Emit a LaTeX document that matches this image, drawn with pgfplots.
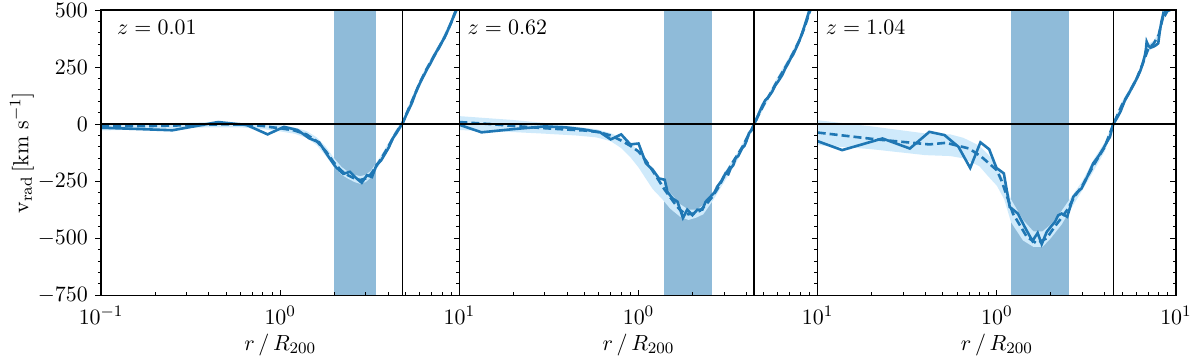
\documentclass[border=0pt]{standalone}
\usepackage{pgfplots}
\pgfplotsset{compat=1.18}

\definecolor{tabblue}{HTML}{1F77B4}
\definecolor{shellc}{RGB}{143,187,217}
\definecolor{spreadc}{RGB}{207,234,251}

\pgfplotsset{
  vrpanel/.style={
    scale only axis, width=179pt, height=142.5pt,
    xmin=0.1, xmax=10, ymin=-750, ymax=500,
    xtick={0.1,1,10}, ytick={-750,-500,-250,0,250,500},
    minor y tick num=4,
    xtick pos=bottom, ytick pos=left,
    xtick align=inside, ytick align=outside,
    major tick length=2.8pt, minor tick length=1.6pt,
    tick style={black, line width=0.5pt},
    axis line style={line width=0.65pt},
    axis on top,
    xticklabel style={yshift=-1.5pt},
    xlabel={$r\,/\,R_{200}$},
    xlabel style={at={(rel axis cs:0.5,-0.193)}, anchor=base},
  },
  solidc/.style={tabblue, line width=1.3pt},
  dashc/.style={tabblue, line width=1.3pt, dash pattern=on 4pt off 2pt},
}

\begin{document}
\fontsize{11}{13.2}\selectfont
\begin{tikzpicture}
\path[use as bounding box] (-50.5pt,-32.5pt) rectangle (549pt,147.5pt);

% ---------------- z = 0.01 ----------------
\begin{axis}[xmode=log, vrpanel, at={(0pt,0pt)},
    ylabel={$\mathrm{v_{rad}}\,[\mathrm{km\ s^{-1}}]$},
    ylabel style={at={(rel axis cs:-0.221,0.5)}, anchor=center}]
\addplot[fill=shellc, draw=none] coordinates {(2.0,-750) (3.44,-750) (3.44,500) (2.0,500)} -- cycle;
\addplot[fill=spreadc, draw=none] coordinates {
  (0.1,2) (0.2,3) (0.4,8) (0.6,6) (0.8,3) (1.0,-5) (1.2,-15) (1.4,-30) (1.6,-58)
  (1.8,-100) (2.0,-150) (2.2,-188) (2.4,-210) (2.6,-222) (2.8,-228) (3.0,-222)
  (3.2,-205) (3.4,-175) (3.6,-145) (3.8,-115) (4.0,-85) (4.4,-28) (4.8,18)
  (5.5,125) (6.5,250) (8,375) (9,460) (10,545)
  (10,515) (9,430) (8,345) (6.5,220) (5.5,95) (4.8,-12) (4.4,-56) (4.0,-115)
  (3.8,-145) (3.6,-175) (3.4,-205) (3.2,-235) (3.0,-254) (2.8,-262) (2.6,-254)
  (2.4,-240) (2.2,-222) (2.0,-190) (1.8,-140) (1.6,-92) (1.4,-60) (1.2,-42)
  (1.0,-32) (0.8,-22) (0.6,-14) (0.4,-14) (0.2,-22) (0.1,-28)} -- cycle;
\addplot[dashc] coordinates {
  (0.1,-10) (0.15,-9) (0.2,-8) (0.3,-5) (0.4,-2) (0.5,-1) (0.6,-2) (0.7,-4)
  (0.8,-8) (0.9,-14) (1.0,-18) (1.2,-28) (1.4,-45) (1.6,-75) (1.8,-120)
  (2.0,-170) (2.2,-205) (2.4,-225) (2.6,-238) (2.8,-245) (3.0,-238) (3.2,-220)
  (3.4,-190) (3.6,-160) (3.8,-130) (4.0,-100) (4.2,-70) (4.4,-42) (4.6,-18)
  (4.8,3) (5.0,35) (5.5,110) (6,180) (6.5,235) (7,280) (7.5,322) (8,360)
  (8.5,400) (9,445) (9.5,490) (10,530)};
\addplot[solidc] coordinates {
  (0.05,-7) (0.25,-27) (0.45,9) (0.65,-4) (0.85,-45) (1.05,-12) (1.25,-26)
  (1.45,-62) (1.65,-80) (1.85,-140) (2.05,-190) (2.25,-218) (2.45,-209)
  (2.65,-236) (2.85,-257) (3.05,-224) (3.25,-232) (3.45,-178) (3.65,-160)
  (3.85,-130) (4.05,-100) (4.25,-62) (4.45,-40) (4.65,-15) (4.85,8) (5.05,40)
  (5.25,68) (5.45,95) (5.65,130) (5.85,158) (6.05,183) (6.25,205) (6.45,225)
  (6.65,246) (6.85,262) (7.05,282) (7.25,300) (7.45,318) (7.65,331) (7.85,348)
  (8.05,364) (8.25,378) (8.45,396) (8.65,414) (8.85,432) (9.05,450) (9.25,470)
  (9.45,489) (9.65,505) (9.85,520) (10.05,535)};
\addplot[black, line width=1pt] coordinates {(0.1,0) (10,0)};
\addplot[black, line width=0.6pt] coordinates {(4.79,-750) (4.79,500)};
\node[anchor=west, inner sep=0pt] at (rel axis cs:0.044,0.94) {$z = 0.01$};
\end{axis}

% ---------------- z = 0.62 ----------------
\begin{axis}[xmode=log, vrpanel, at={(179pt,0pt)}, yticklabels={},
    xticklabels={{},$10^{0}$,$10^{1}$}]
\addplot[fill=shellc, draw=none] coordinates {(1.38,-750) (2.58,-750) (2.58,500) (1.38,500)} -- cycle;
\addplot[fill=spreadc, draw=none] coordinates {
  (0.1,35) (0.2,18) (0.3,5) (0.45,-12) (0.58,-22) (0.7,-40) (0.8,-60) (0.9,-85)
  (1.0,-115) (1.1,-155) (1.2,-200) (1.36,-255) (1.5,-300) (1.7,-350) (1.9,-375)
  (2.1,-375) (2.3,-355) (2.6,-300) (3,-215) (3.5,-135) (4,-55) (4.4,5) (5,95)
  (6,210) (7,300) (8,390) (9,500) (9.3,535)
  (9.3,505) (9,470) (8,360) (7,270) (6,180) (5,70) (4.4,-15) (4,-85) (3.5,-170)
  (3,-255) (2.6,-335) (2.3,-395) (2.1,-410) (1.9,-420) (1.7,-405) (1.5,-370)
  (1.36,-330) (1.2,-285) (1.1,-240) (1.0,-190) (0.9,-145) (0.8,-105) (0.7,-75)
  (0.58,-58) (0.45,-50) (0.3,-42) (0.2,-35) (0.1,-26)} -- cycle;
\addplot[dashc] coordinates {
  (0.1,9) (0.15,0) (0.2,-8) (0.3,-18) (0.4,-24) (0.5,-28) (0.6,-35) (0.7,-50)
  (0.8,-72) (0.9,-95) (1.0,-120) (1.1,-160) (1.2,-205) (1.3,-248) (1.4,-288)
  (1.5,-320) (1.6,-350) (1.7,-375) (1.8,-390) (1.9,-395) (2.0,-393) (2.2,-380)
  (2.4,-350) (2.6,-315) (2.8,-275) (3.0,-230) (3.2,-195) (3.4,-160) (3.6,-130)
  (3.8,-100) (4.0,-65) (4.2,-35) (4.4,-3) (4.6,30) (5.0,85) (5.5,140) (6,195)
  (6.5,240) (7,285) (7.5,330) (8,375) (8.5,430) (9,490) (9.3,520)};
\addplot[solidc] coordinates {
  (0.1,-3) (0.133,-36) (0.2,-22) (0.3,-10) (0.4,-15) (0.5,-24) (0.61,-36)
  (0.7,-67) (0.8,-45) (0.9,-89) (1.0,-85) (1.1,-172) (1.2,-200) (1.3,-238)
  (1.4,-244) (1.45,-297) (1.55,-326) (1.65,-340) (1.77,-411) (1.87,-375)
  (2.0,-399) (2.13,-375) (2.27,-375) (2.37,-340) (2.52,-318) (2.65,-300)
  (2.75,-274) (2.9,-250) (3.06,-215) (3.17,-220) (3.27,-193) (3.38,-180)
  (3.48,-149) (3.6,-140) (3.79,-105) (3.9,-95) (4.0,-75) (4.13,-40) (4.3,-25)
  (4.41,0) (4.55,20) (4.7,48) (4.9,80) (5.1,105) (5.3,118) (5.57,142) (5.8,170)
  (6.05,190) (6.34,215) (6.6,245) (6.8,262) (7.06,288) (7.3,305) (7.6,335)
  (7.86,361) (8.2,400) (8.6,450) (8.94,493) (9.2,520)};
\addplot[black, line width=1pt] coordinates {(0.1,0) (10,0)};
\addplot[black, line width=0.6pt] coordinates {(4.41,-750) (4.41,500)};
\node[anchor=west, inner sep=0pt] at (rel axis cs:0.022,0.94) {$z = 0.62$};
\end{axis}

% ---------------- z = 1.04 ----------------
\begin{axis}[xmode=log, vrpanel, at={(358pt,0pt)}, yticklabels={},
    xticklabels={{},$10^{0}$,$10^{1}$}]
\addplot[fill=shellc, draw=none] coordinates {(1.20,-750) (2.52,-750) (2.52,500) (1.20,500)} -- cycle;
\addplot[fill=spreadc, draw=none] coordinates {
  (0.1,17) (0.2,-10) (0.4,-41) (0.55,-45) (0.65,-60) (0.8,-95) (0.9,-136)
  (1.0,-180) (1.1,-250) (1.2,-330) (1.4,-420) (1.6,-470) (1.8,-470) (2.0,-440)
  (2.3,-380) (2.6,-320) (3,-250) (3.5,-150) (4,-80) (4.5,15) (5,100) (5.5,155)
  (6,210) (6.5,275) (7,350) (7.5,365) (8,400) (8.5,495) (9,535)
  (9,500) (8.5,460) (8,375) (7.5,340) (7,315) (6.5,245) (6,180) (5.5,125)
  (5,70) (4.5,-15) (4,-120) (3.5,-200) (3,-290)
  (2.6,-370) (2.3,-440) (2.0,-500) (1.8,-538) (1.6,-538) (1.4,-510) (1.2,-430)
  (1.1,-330) (1.0,-270) (0.9,-231) (0.8,-185) (0.65,-150) (0.55,-140)
  (0.4,-136) (0.2,-110) (0.1,-92)} -- cycle;
\addplot[dashc] coordinates {
  (0.1,-37) (0.213,-67) (0.42,-89) (0.52,-82) (0.7,-107) (0.82,-143) (1.0,-202)
  (1.06,-246) (1.23,-392) (1.47,-494) (1.67,-523) (1.9,-500) (2.1,-450)
  (2.3,-410) (2.5,-370) (2.7,-320) (3.0,-270) (3.5,-175) (4.0,-100) (4.5,5)
  (5,85) (5.5,140) (6,195) (6.5,262) (7,330) (7.5,352) (8,390) (8.5,475) (9,520)};
\addplot[solidc] coordinates {
  (0.1,-75) (0.137,-114) (0.23,-63) (0.327,-107) (0.42,-34) (0.51,-48)
  (0.61,-99) (0.71,-192) (0.81,-80) (0.906,-110) (0.995,-192) (1.094,-216)
  (1.18,-363) (1.31,-392) (1.43,-450) (1.58,-512) (1.69,-477) (1.78,-526)
  (1.90,-472) (2.0,-450) (2.11,-428) (2.2,-400) (2.30,-392) (2.47,-406)
  (2.67,-319) (2.8,-300) (2.97,-282) (3.2,-230) (3.45,-172) (3.7,-140)
  (3.93,-107) (4.1,-80) (4.28,-56) (4.46,0) (4.67,25) (4.9,55) (5.19,105)
  (5.5,140) (5.77,171) (6.0,195) (6.29,229) (6.5,262) (6.71,303) (6.8,330)
  (6.86,361) (7.0,345) (7.2,335) (7.47,339) (7.7,345) (7.96,354) (8.14,412)
  (8.3,450) (8.5,486) (8.7,478) (8.95,495) (9.25,500) (9.5,530)};
\addplot[black, line width=1pt] coordinates {(0.1,0) (10,0)};
\addplot[black, line width=0.6pt] coordinates {(4.46,-750) (4.46,500)};
\node[anchor=west, inner sep=0pt] at (rel axis cs:0.022,0.94) {$z = 1.04$};
\end{axis}

% right-hand ticks of the last panel, pointing inwards
\begin{axis}[xmode=log, scale only axis, width=179pt, height=142.5pt, at={(358pt,0pt)},
    xmin=0.1, xmax=10, ymin=-750, ymax=500,
    hide x axis, axis y line*=right, ytick align=inside,
    ytick={-750,-500,-250,0,250,500}, minor y tick num=4, yticklabels={},
    major tick length=2.8pt, minor tick length=1.6pt,
    tick style={black, line width=0.5pt}, axis line style={line width=0.65pt}]
\end{axis}
\end{tikzpicture}
\end{document}
